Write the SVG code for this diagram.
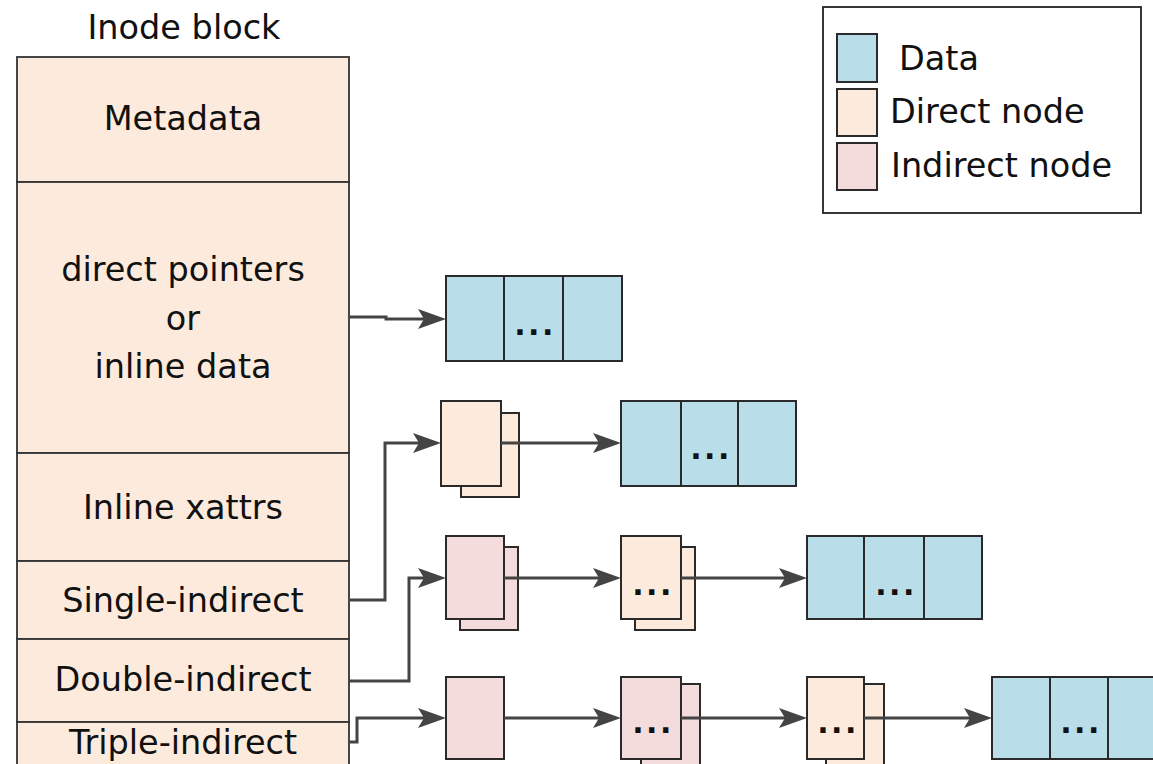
<svg xmlns="http://www.w3.org/2000/svg" width="1153" height="764" viewBox="0 0 1153 764">
<style>
text{font-family:"DejaVu Sans","Liberation Sans",sans-serif;fill:#111;}
.lbl{font-size:33.5px;text-anchor:middle;}
.leg{font-size:33.5px;}
.dots{font-size:30px;text-anchor:middle;letter-spacing:2.5px;font-weight:bold;}
.data{fill:#b9dde9;stroke:#2a2a2a;stroke-width:2;}
.dir{fill:#fcebdd;stroke:#2a2a2a;stroke-width:2;}
.ind{fill:#f4dcdc;stroke:#2a2a2a;stroke-width:2;}
.ino{fill:#fcebdd;stroke:#333;stroke-width:1.8;}
.conn{fill:none;stroke:#444;stroke-width:3;marker-end:url(#arr);}
</style>
<defs>
<marker id="arr" markerUnits="userSpaceOnUse" viewBox="0 0 28 20" refX="20" refY="10" markerWidth="28" markerHeight="20" orient="auto">
<path d="M0,0 L28,10 L0,20 L6,10 Z" fill="#444"/>
</marker>
</defs>
<rect width="1153" height="764" fill="#fff"/>

<g id="inode">
<text class="lbl" x="184" y="39">Inode block</text>
<rect class="ino" x="17" y="57" width="332" height="125"/>
<rect class="ino" x="17" y="182" width="332" height="271"/>
<rect class="ino" x="17" y="453" width="332" height="108"/>
<rect class="ino" x="17" y="561" width="332" height="78"/>
<rect class="ino" x="17" y="639" width="332" height="83"/>
<rect class="ino" x="17" y="722" width="332" height="44"/>
<text class="lbl" x="183" y="130">Metadata</text>
<text class="lbl" x="183" y="281">direct pointers</text>
<text class="lbl" x="183" y="330">or</text>
<text class="lbl" x="183" y="378">inline data</text>
<text class="lbl" x="183" y="519">Inline xattrs</text>
<text class="lbl" x="183" y="612">Single-indirect</text>
<text class="lbl" x="183" y="691">Double-indirect</text>
<text class="lbl" x="183" y="754">Triple-indirect</text>
</g>

<g id="legend">
<rect x="823" y="7" width="318" height="206" fill="#fff" stroke="#222" stroke-width="1.8"/>
<rect class="data" x="837" y="34" width="40" height="48"/>
<rect class="dir" x="837" y="89" width="40" height="47"/>
<rect class="ind" x="837" y="143" width="40" height="47"/>
<text class="leg" x="899" y="70">Data</text>
<text class="leg" x="890" y="123">Direct node</text>
<text class="leg" x="891" y="177">Indirect node</text>
</g>

<g id="data1">
<rect class="data" x="446" y="276" width="176" height="85"/>
<line x1="504" y1="276" x2="504" y2="361" stroke="#2a2a2a" stroke-width="2"/>
<line x1="563" y1="276" x2="563" y2="361" stroke="#2a2a2a" stroke-width="2"/>
<text class="dots" x="535" y="335">...</text>
</g>

<g id="direct2">
<rect class="dir" x="461" y="413" width="58" height="84"/>
<rect class="dir" x="441" y="401" width="60" height="85"/>
</g>
<g id="data2">
<rect class="data" x="621" y="401" width="175" height="85"/>
<line x1="681" y1="401" x2="681" y2="486" stroke="#2a2a2a" stroke-width="2"/>
<line x1="738" y1="401" x2="738" y2="486" stroke="#2a2a2a" stroke-width="2"/>
<text class="dots" x="711" y="459">...</text>
</g>

<g id="indirect3">
<rect class="ind" x="460" y="547" width="58" height="83"/>
<rect class="ind" x="446" y="536" width="58" height="83"/>
</g>
<g id="direct3">
<rect class="dir" x="635" y="547" width="60" height="83"/>
<rect class="dir" x="621" y="536" width="60" height="83"/>
<text class="dots" x="653" y="595">...</text>
</g>
<g id="data3">
<rect class="data" x="807" y="536" width="175" height="83"/>
<line x1="864" y1="536" x2="864" y2="619" stroke="#2a2a2a" stroke-width="2"/>
<line x1="924" y1="536" x2="924" y2="619" stroke="#2a2a2a" stroke-width="2"/>
<text class="dots" x="896" y="595">...</text>
</g>

<g id="indirect4a">
<rect class="ind" x="446" y="677" width="58" height="82"/>
</g>
<g id="indirect4b">
<rect class="ind" x="641" y="684" width="59" height="84"/>
<rect class="ind" x="621" y="677" width="60" height="82"/>
<text class="dots" x="653" y="733">...</text>
</g>
<g id="direct4">
<rect class="dir" x="826" y="684" width="58" height="84"/>
<rect class="dir" x="807" y="677" width="57" height="82"/>
<text class="dots" x="838" y="733">...</text>
</g>
<g id="data4">
<rect class="data" x="992" y="677" width="174" height="82"/>
<line x1="1050" y1="677" x2="1050" y2="759" stroke="#2a2a2a" stroke-width="2"/>
<line x1="1108" y1="677" x2="1108" y2="759" stroke="#2a2a2a" stroke-width="2"/>
<text class="dots" x="1081" y="733">...</text>
</g>

<g id="connectors">
<path class="conn" d="M349,317 H386 V319 H438"/>
<path class="conn" d="M349,600 H385 V443 H433"/>
<path class="conn" d="M501,443 H613"/>
<path class="conn" d="M349,681 H409 V578 H438"/>
<path class="conn" d="M504,578 H613"/>
<path class="conn" d="M681,578 H799"/>
<path class="conn" d="M349,742 H357 V718 H438"/>
<path class="conn" d="M504,718 H613"/>
<path class="conn" d="M681,718 H799"/>
<path class="conn" d="M864,718 H984"/>
</g>
</svg>
